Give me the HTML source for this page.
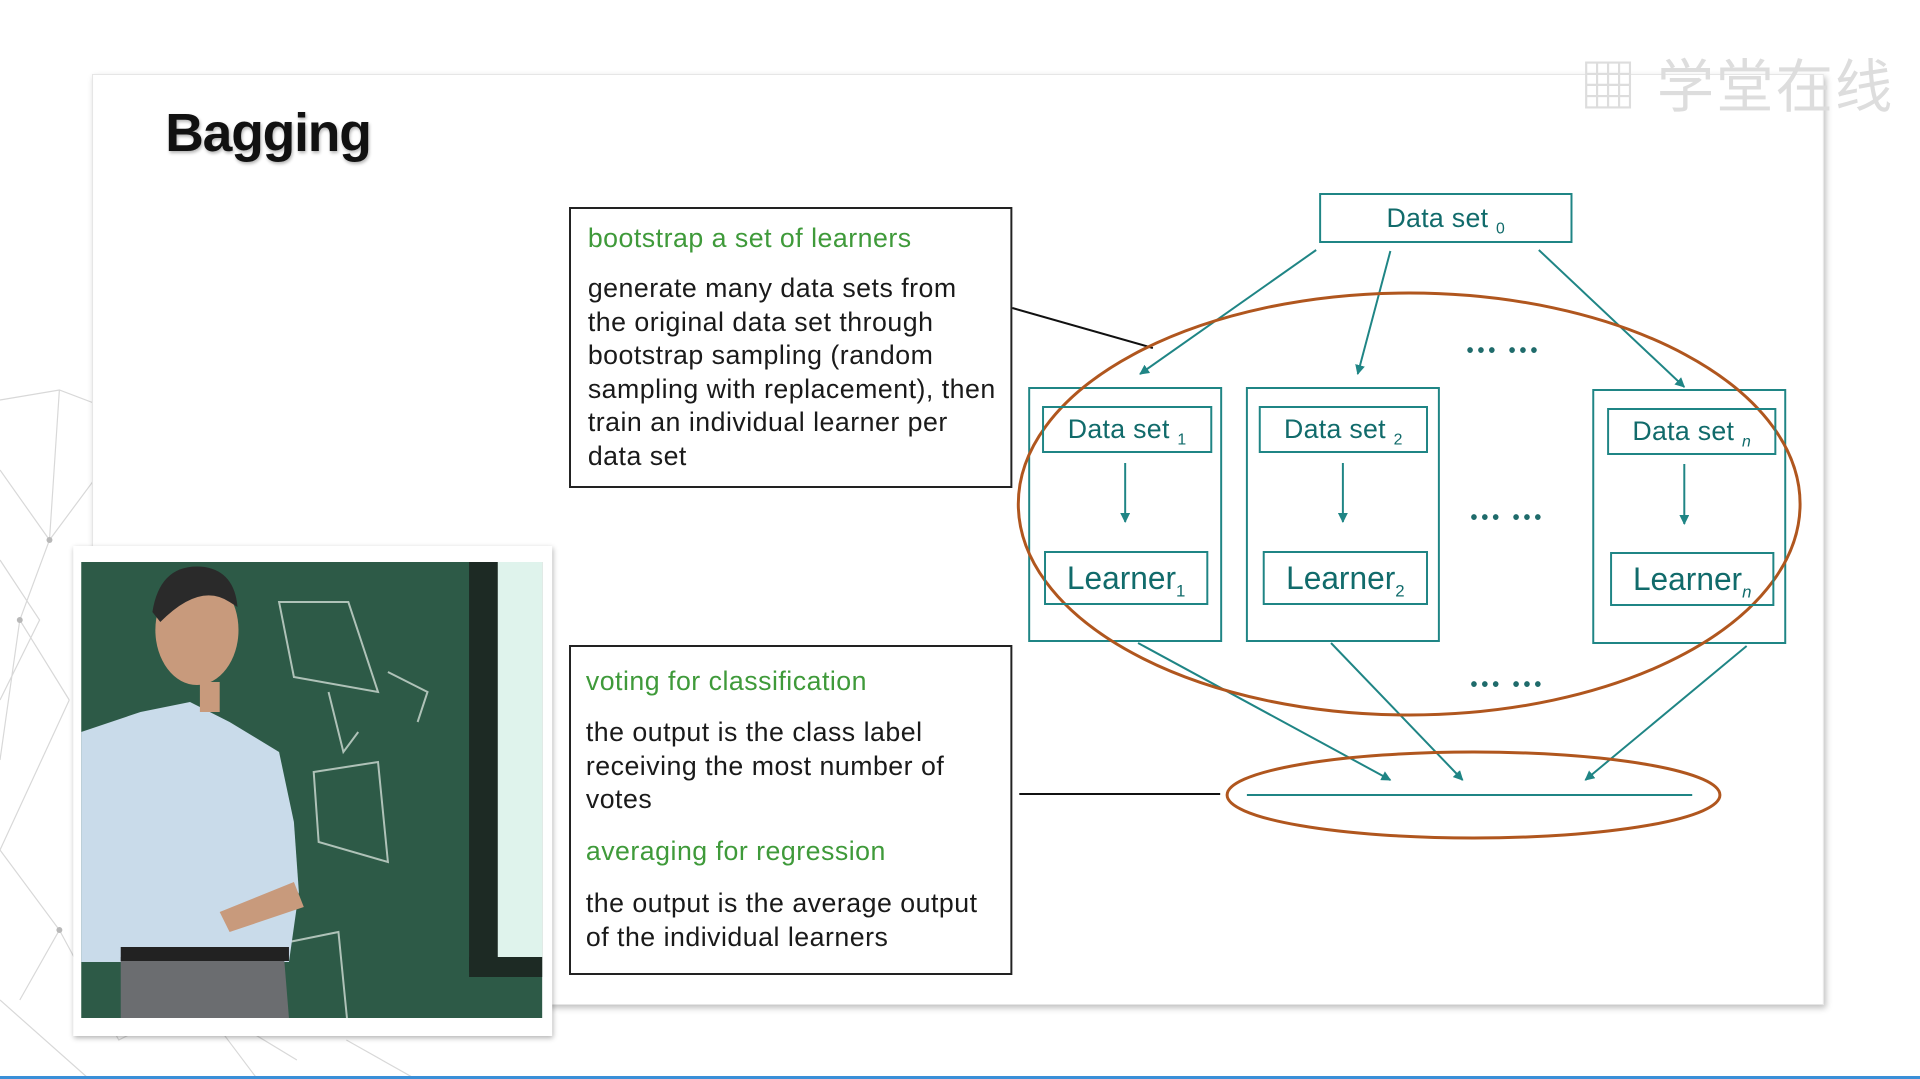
<!DOCTYPE html>
<html><head><meta charset="utf-8"><style>
html,body{margin:0;padding:0;width:1920px;height:1079px;overflow:hidden;background:#fff;font-family:"Liberation Sans",Arial,sans-serif;}
.abs{position:absolute}
.wrap{position:absolute;left:0;top:0;width:1920px;height:1079px;transform:scaleX(0.9896);transform-origin:0 0}
.card{left:93px;top:74px;width:1748px;height:929px;background:#fff;box-shadow:2px 3px 6px rgba(0,0,0,.25);border:1px solid #e6e6e6}
.tb{border:2px solid #222;background:#fff;box-sizing:border-box}
.t{position:absolute;left:0;font-size:27px;color:#1a1a1a;white-space:nowrap;letter-spacing:0.5px}
.g{color:#3f9a3a}
.bx{position:absolute;border:2px solid #1f8585;box-sizing:border-box;color:#116b6b;text-align:center;font-size:27px;white-space:nowrap;letter-spacing:0.3px}
</style></head><body>
<div class="wrap">
<svg class="abs" style="left:0;top:0" width="1920" height="1079">
<g stroke="#d8d8d8" stroke-width="1.2" fill="none">
<path d="M0 400 L60 390 L140 420 L200 470 L260 520 M0 470 L50 540 L20 620 L70 700 M60 390 L50 540 L140 420 M0 560 L40 620 L0 700 M20 620 L0 760 M70 700 L0 850 L60 930 L20 1000 M60 930 L120 1040 L200 1000 L300 1060 M0 1000 L90 1079 M200 1000 L260 1079 M350 1040 L420 1079"/>
</g>
<g fill="#b8b8b8"><circle cx="50" cy="540" r="3"/><circle cx="20" cy="620" r="3"/><circle cx="60" cy="930" r="3"/><circle cx="200" cy="1000" r="3"/></g>
</svg>
<div class="abs card"></div>
<div class="abs" style="left:167px;top:102px;font-size:54px;font-weight:bold;color:#111;letter-spacing:-1.2px;text-shadow:1px 2px 3px rgba(0,0,0,.3)">Bagging</div>
<div class="abs" style="left:1596px;top:40px;font-size:58px;color:#ddd;font-family:'Liberation Sans','Noto Sans CJK SC',sans-serif;letter-spacing:2px">▦ 学堂在线</div>

<div class="abs tb" style="left:575px;top:207px;width:448px;height:281px">
 <div class="t g" style="left:17px;top:14px">bootstrap a set of learners</div>
 <div class="t" style="left:17px;top:63px;line-height:33.6px">generate many data sets from<br>the original data set through<br>bootstrap sampling (random<br>sampling with replacement), then<br>train an individual learner per<br>data set</div>
</div>
<div class="abs tb" style="left:575px;top:645px;width:448px;height:330px">
 <div class="t g" style="left:15px;top:19px">voting for classification</div>
 <div class="t" style="left:15px;top:69px;line-height:33.5px">the output is the class label<br>receiving the most number of<br>votes</div>
 <div class="t g" style="left:15px;top:189px">averaging for regression</div>
 <div class="t" style="left:15px;top:239px;line-height:34px">the output is the average output<br>of the individual learners</div>
</div>

<div class="abs" style="left:74px;top:546px;width:484px;height:490px;background:#fff;box-shadow:1px 2px 5px rgba(0,0,0,.3)"></div>
<svg class="abs" style="left:82px;top:562px" width="466" height="456">
<rect width="466" height="456" fill="#2d5a47"/>
<rect x="392" y="0" width="30" height="410" fill="#1d2a24"/>
<rect x="421" y="0" width="45" height="395" fill="#dff3ec"/>
<rect x="392" y="395" width="74" height="20" fill="#1d2a24"/>
<g stroke="#cfdcd4" stroke-width="2" fill="none" opacity=".8">
<path d="M200 40 L270 40 L300 130 L215 115 Z M250 130 L265 190 L280 170 M310 110 L350 130 L340 160 M235 210 L300 200 L310 300 L240 280 Z M210 380 L260 370 L270 470"/>
</g>
<path d="M0 170 L60 150 L110 140 L150 160 L200 190 L215 260 L220 330 L210 400 L0 400 Z" fill="#c9dbea"/>
<ellipse cx="117" cy="68" rx="42" ry="55" fill="#c89a7c"/>
<path d="M72 50 Q80 0 125 5 Q155 10 158 45 L150 40 Q120 20 80 60 Z" fill="#2a2a2a"/>
<rect x="120" y="120" width="20" height="30" fill="#c89a7c"/>
<path d="M140 350 L215 320 L225 345 L150 370 Z" fill="#c89a7c"/>
<path d="M40 395 L205 395 L210 456 L40 456 Z" fill="#6b6d70"/>
<rect x="40" y="385" width="170" height="14" fill="#222"/>
</svg>

<svg class="abs" style="left:0;top:0" width="1920" height="1079">
<defs><marker id="a" markerWidth="10" markerHeight="10" refX="9" refY="5" orient="auto" markerUnits="userSpaceOnUse"><path d="M0 0 L10 5 L0 10 Z" fill="#1f8585"/></marker></defs>
<line x1="1023" y1="308" x2="1165" y2="348" stroke="#111" stroke-width="2"/>
<line x1="1030" y1="794" x2="1233" y2="794" stroke="#111" stroke-width="2"/>
<g stroke="#1f8585" stroke-width="2" fill="none">
<rect x="1040" y="388" width="194" height="253"/>
<rect x="1260" y="388" width="194" height="253"/>
<rect x="1610" y="390" width="194" height="253"/>
<g marker-end="url(#a)">
<line x1="1330" y1="250" x2="1152" y2="374"/>
<line x1="1405" y1="251" x2="1372" y2="374"/>
<line x1="1555" y1="250" x2="1702" y2="387"/>
<line x1="1137" y1="463" x2="1137" y2="522"/>
<line x1="1357" y1="463" x2="1357" y2="522"/>
<line x1="1702" y1="464" x2="1702" y2="524"/>
<line x1="1150" y1="643" x2="1405" y2="780"/>
<line x1="1345" y1="643" x2="1478" y2="780"/>
<line x1="1765" y1="646" x2="1602" y2="780"/>
</g>
<line x1="1260" y1="795" x2="1710" y2="795"/>
</g>
<g fill="#1f6b6b" font-size="20" font-weight="bold" font-family="Liberation Sans,sans-serif" letter-spacing="4">
<text x="1482" y="357">••• •••</text>
<text x="1486" y="524">••• •••</text>
<text x="1486" y="691">••• •••</text>
</g>
<ellipse cx="1424" cy="504" rx="395" ry="211" fill="none" stroke="#b0561e" stroke-width="3"/>
<ellipse cx="1489" cy="795" rx="249" ry="43" fill="none" stroke="#b0561e" stroke-width="3"/>
</svg>
<div class="bx" style="left:1333px;top:193px;width:256px;height:50px;line-height:46px">Data set <sub style="font-size:16px">0</sub></div>
<div class="bx" style="left:1053px;top:406px;width:172px;height:47px;line-height:43px">Data set <sub style="font-size:16px">1</sub></div>
<div class="bx" style="left:1272px;top:406px;width:171px;height:47px;line-height:43px">Data set <sub style="font-size:16px">2</sub></div>
<div class="bx" style="left:1624px;top:408px;width:171px;height:47px;line-height:43px">Data set <sub style="font-size:16px"><i>n</i></sub></div>
<div class="bx" style="left:1055px;top:551px;width:166px;height:54px;line-height:50px;font-size:32px;letter-spacing:0">Learner<sub style="font-size:17px">1</sub></div>
<div class="bx" style="left:1276px;top:551px;width:167px;height:54px;line-height:50px;font-size:32px;letter-spacing:0">Learner<sub style="font-size:17px">2</sub></div>
<div class="bx" style="left:1627px;top:552px;width:166px;height:54px;line-height:50px;font-size:32px;letter-spacing:0">Learner<sub style="font-size:17px"><i>n</i></sub></div>
</div>
<div class="abs" style="left:0;top:1076px;width:1920px;height:3px;background:#3a8fd8"></div>
</body></html>
